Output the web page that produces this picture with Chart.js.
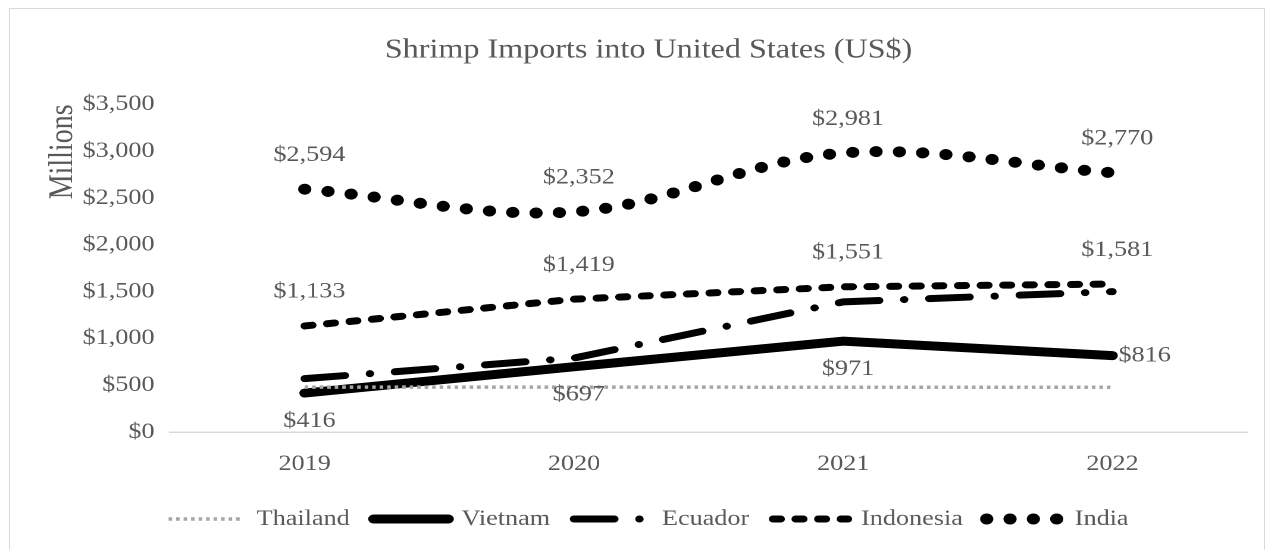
<!DOCTYPE html>
<html>
<head>
<meta charset="utf-8">
<script src="https://cdn.jsdelivr.net/npm/chart.js@4.4.1/dist/chart.umd.min.js"></script>
<style>
  html, body { margin: 0; padding: 0; background: #fff; }
  #frame { position: absolute; left: 9px; top: 8px; width: 1256px; height: 560px; border: 1px solid #d9d9d9; box-sizing: border-box; }
  /* the reference is a horizontally stretched Excel export, so draw narrow and stretch */
  #wrap { position: absolute; left: 0; top: 0; width: 1070px; height: 550px; transform: scaleX(1.19); transform-origin: 0 0; }
</style>
</head>
<body>
<div id="frame"></div>
<div id="wrap"><canvas id="shrimpChart"></canvas></div>
<script>
const years = ['2019', '2020', '2021', '2022'];
const thailand = [480, 480, 478, 478];
const vietnam = [416, 697, 971, 816];
const ecuador = [570, 790, 1390, 1500];
const indonesia = [1133, 1419, 1551, 1581];
const india = [2594, 2352, 2981, 2770];

// where each point's value label sits
const vietnamLabels = ['below', 'below', 'below', 'right'];
const indonesiaLabels = ['above', 'above', 'above', 'above'];
const indiaLabels = ['above', 'above', 'above', 'above'];

const serif = '"Liberation Serif", "Times New Roman", serif';
const grey = '#595959';
const money = v => '$' + Number(v).toLocaleString('en-US');

const valueLabels = {
  id: 'valueLabels',
  afterDatasetsDraw(chart) {
    const ctx = chart.ctx;
    ctx.save();
    ctx.font = '22px ' + serif;
    ctx.fillStyle = grey;
    ctx.textBaseline = 'middle';
    chart.data.datasets.forEach((ds, di) => {
      if (!ds.labelPos) return;
      const meta = chart.getDatasetMeta(di);
      meta.data.forEach((pt, i) => {
        const pos = ds.labelPos[i];
        if (!pos) return;
        const txt = money(ds.data[i]);
        if (pos === 'right') {
          ctx.textAlign = 'left';
          ctx.fillText(txt, pt.x + 5, pt.y);
        } else {
          ctx.textAlign = 'center';
          ctx.fillText(txt, pt.x + 4, pos === 'above' ? pt.y - 34 : pt.y + 28);
        }
      });
    });
    ctx.restore();
  }
};

// legend samples should carry the same dash pattern as the lines
function legendItems(chart) {
  const items = Chart.defaults.plugins.legend.labels.generateLabels(chart);
  items.forEach(it => {
    const ds = chart.data.datasets[it.datasetIndex];
    it.lineDash = ds.borderDash || [];
    it.lineCap = ds.borderCapStyle;
    it.lineWidth = ds.borderWidth;
    it.strokeStyle = ds.borderColor;
    it.fillStyle = ds.borderColor;
  });
  return items;
}

new Chart(document.getElementById('shrimpChart'), {
  type: 'line',
  data: {
    labels: years,
    datasets: [
      { label: 'Thailand', data: thailand, borderColor: '#a6a6a6',
        borderWidth: 3.5, borderDash: [3, 3.3], borderCapStyle: 'butt', pointRadius: 0, tension: 0 },
      { label: 'Vietnam', data: vietnam, borderColor: '#000',
        borderWidth: 9, borderCapStyle: 'round', pointRadius: 0, tension: 0, labelPos: vietnamLabels },
      { label: 'Ecuador', data: ecuador, borderColor: '#000',
        borderWidth: 7, borderDash: [34, 21, 0.1, 21], borderCapStyle: 'round', pointRadius: 0, tension: 0 },
      { label: 'Indonesia', data: indonesia, borderColor: '#000',
        borderWidth: 7, borderDash: [6.5, 12.5], borderCapStyle: 'round', pointRadius: 0, tension: 0, labelPos: indonesiaLabels },
      { label: 'India', data: india, borderColor: '#000',
        borderWidth: 11, borderDash: [0.1, 19.5], borderCapStyle: 'round', pointRadius: 0, tension: 0.35, labelPos: indiaLabels }
    ]
  },
  options: {
    responsive: true,
    maintainAspectRatio: false,
    devicePixelRatio: 2,
    animation: false,
    layout: { padding: { left: 42, right: 22, top: 0, bottom: 10 } },
    plugins: {
      title: { display: true, text: 'Shrimp Imports into United States (US$)', color: grey,
        font: { family: serif, size: 27, weight: 'normal' }, padding: { top: 34, bottom: 38 } },
      legend: { position: 'bottom',
        labels: { color: grey, font: { family: serif, size: 22 }, usePointStyle: true,
          pointStyle: 'line', pointStyleWidth: 63, padding: 20, generateLabels: legendItems } },
      tooltip: { enabled: false }
    },
    scales: {
      x: {
        offset: true,
        grid: { display: false },
        border: { display: true, color: '#d9d9d9', width: 1.5 },
        ticks: { color: grey, font: { family: serif, size: 22, lineHeight: 1 }, padding: 13 }
      },
      y: {
        min: 0, max: 3500,
        grid: { display: false },
        border: { display: false },
        ticks: { stepSize: 500, color: grey, font: { family: serif, size: 22 }, padding: 5, callback: money },
        title: { display: true, text: 'Millions', align: 'end', color: grey,
          font: { family: serif, size: 28, lineHeight: 0.8 }, padding: 0 }
      }
    }
  },
  plugins: [valueLabels]
});
</script>
</body>
</html>
